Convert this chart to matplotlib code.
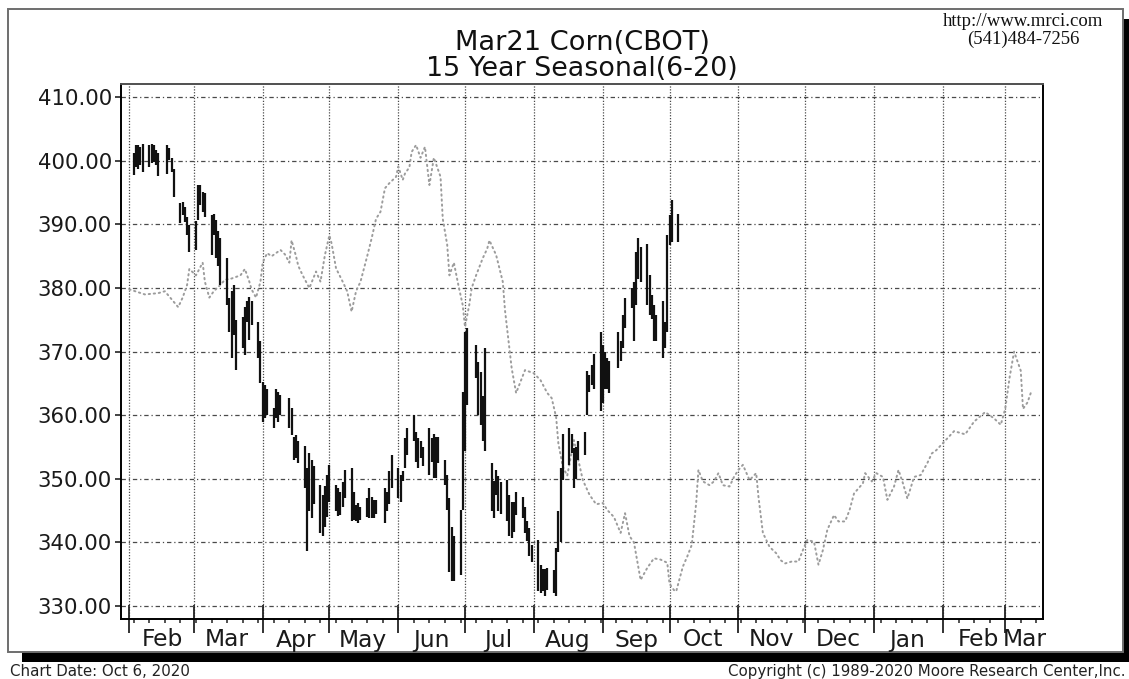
import matplotlib
matplotlib.use("Agg")
import matplotlib.pyplot as plt
import matplotlib.dates as mdates
import matplotlib.transforms as mtransforms
from matplotlib.patches import Rectangle
import pandas as pd

# ---------------- data ----------------
title_line1 = "Mar21 Corn(CBOT)"
title_line2 = "15 Year Seasonal(6-20)"
site_text = "http://www.mrci.com"
phone_text = "(541)484-7256"
chart_date_text = "Chart Date: Oct 6, 2020"
copyright_text = "Copyright (c) 1989-2020 Moore Research Center,Inc."

price_dates = [
    "2020-02-03", "2020-02-04", "2020-02-05", "2020-02-06", "2020-02-07",
    "2020-02-10", "2020-02-11", "2020-02-12", "2020-02-13", "2020-02-14",
    "2020-02-18", "2020-02-19", "2020-02-20", "2020-02-21",
    "2020-02-24", "2020-02-25", "2020-02-26", "2020-02-27", "2020-02-28",
    "2020-03-02", "2020-03-03", "2020-03-04", "2020-03-05", "2020-03-06",
    "2020-03-09", "2020-03-10", "2020-03-11", "2020-03-12", "2020-03-13",
    "2020-03-16", "2020-03-17", "2020-03-18", "2020-03-19", "2020-03-20",
    "2020-03-23", "2020-03-24", "2020-03-25", "2020-03-26", "2020-03-27",
    "2020-03-30", "2020-03-31", "2020-04-01", "2020-04-02", "2020-04-03",
    "2020-04-06", "2020-04-07", "2020-04-08", "2020-04-09",
    "2020-04-13", "2020-04-14", "2020-04-15", "2020-04-16", "2020-04-17",
    "2020-04-20", "2020-04-21", "2020-04-22", "2020-04-23", "2020-04-24",
    "2020-04-27", "2020-04-28", "2020-04-29", "2020-04-30", "2020-05-01",
    "2020-05-04", "2020-05-05", "2020-05-06", "2020-05-07", "2020-05-08",
    "2020-05-11", "2020-05-12", "2020-05-13", "2020-05-14", "2020-05-15",
    "2020-05-18", "2020-05-19", "2020-05-20", "2020-05-21", "2020-05-22",
    "2020-05-26", "2020-05-27", "2020-05-28", "2020-05-29",
    "2020-06-01", "2020-06-02", "2020-06-03", "2020-06-04", "2020-06-05",
    "2020-06-08", "2020-06-09", "2020-06-10", "2020-06-11", "2020-06-12",
    "2020-06-15", "2020-06-16", "2020-06-17", "2020-06-18", "2020-06-19",
    "2020-06-22", "2020-06-23", "2020-06-24", "2020-06-25", "2020-06-26",
    "2020-06-29", "2020-06-30", "2020-07-01", "2020-07-02",
    "2020-07-06", "2020-07-07", "2020-07-08", "2020-07-09", "2020-07-10",
    "2020-07-13", "2020-07-14", "2020-07-15", "2020-07-16", "2020-07-17",
    "2020-07-20", "2020-07-21", "2020-07-22", "2020-07-23", "2020-07-24",
    "2020-07-27", "2020-07-28", "2020-07-29", "2020-07-30", "2020-07-31",
    "2020-08-03", "2020-08-04", "2020-08-05", "2020-08-06", "2020-08-07",
    "2020-08-10", "2020-08-11", "2020-08-12", "2020-08-13", "2020-08-14",
    "2020-08-17", "2020-08-18", "2020-08-19", "2020-08-20", "2020-08-21",
    "2020-08-24", "2020-08-25", "2020-08-26", "2020-08-27", "2020-08-28",
    "2020-08-31", "2020-09-01", "2020-09-02", "2020-09-03", "2020-09-04",
    "2020-09-08", "2020-09-09", "2020-09-10", "2020-09-11",
    "2020-09-14", "2020-09-15", "2020-09-16", "2020-09-17", "2020-09-18",
    "2020-09-21", "2020-09-22", "2020-09-23", "2020-09-24", "2020-09-25",
    "2020-09-28", "2020-09-29", "2020-09-30", "2020-10-01", "2020-10-02",
    "2020-10-05",
]
price_high = [
    401.2, 402.5, 402.5, 402.2, 402.7,
    402.5, 402.7, 402.5, 401.7, 401.2,
    402.5, 402.0, 400.4, 398.8,
    393.3, 393.5, 392.8, 391.2, 389.9,
    390.5, 396.2, 396.2, 395.1, 394.9,
    391.5, 391.7, 390.7, 389.0, 387.8,
    384.7, 378.4, 379.5, 380.5, 375.0,
    375.5, 377.1, 377.9, 378.6, 377.9,
    374.7, 371.6, 365.3, 364.8, 364.2,
    361.1, 364.2, 363.7, 363.2,
    362.7, 361.1, 356.6, 356.9, 356.0,
    355.1, 351.7, 354.0, 353.0, 352.0,
    349.0, 347.5, 348.8, 350.6, 352.2,
    349.1, 348.5, 348.0, 349.5, 351.4,
    351.7, 348.0, 345.9, 346.2, 345.5,
    347.0, 348.5, 347.2, 346.7, 346.7,
    348.5, 348.0, 351.2, 353.8,
    351.7, 350.6, 351.2, 356.4, 358.0,
    360.1, 357.4, 356.4, 355.9, 355.0,
    358.0, 356.4, 357.0, 356.6, 356.6,
    353.0, 350.6, 347.0, 342.5, 341.0,
    345.1, 363.7, 373.1, 373.7,
    371.0, 368.4, 366.8, 363.0, 370.5,
    352.5, 349.6, 351.4, 350.5, 349.5,
    349.8, 347.5, 346.4, 346.4, 348.0,
    347.2, 345.5, 343.3, 342.3, 339.6,
    340.4, 336.5, 335.9, 335.9, 336.0,
    335.7, 339.1, 345.0, 351.7, 357.0,
    358.0, 357.0, 354.8, 355.0, 356.0,
    357.4, 366.9, 366.3, 367.9, 369.7,
    373.1, 371.0, 370.0, 369.0, 368.5,
    373.1, 371.6, 375.8, 378.4,
    380.0, 381.0, 385.7, 387.8, 386.5,
    387.0, 382.0, 378.9, 377.3, 375.8,
    377.9, 374.7, 388.3, 391.5, 393.8,
    391.7,
]
price_low = [
    397.8, 399.0, 398.8, 399.3, 398.3,
    399.1, 399.6, 399.8, 399.3, 397.7,
    398.0, 400.1, 398.3, 394.3,
    390.2, 391.5, 390.4, 388.3, 385.7,
    386.0, 390.7, 393.0, 392.0, 391.2,
    385.2, 388.3, 384.7, 383.5, 380.5,
    377.3, 373.1, 369.0, 372.6, 367.1,
    370.5, 369.5, 374.7, 371.8, 374.2,
    369.0, 365.0, 359.0, 359.5, 360.1,
    358.0, 359.5, 359.0, 360.1,
    358.0, 356.9, 353.0, 353.2, 352.5,
    348.5, 338.6, 345.0, 343.9, 346.0,
    341.5, 341.0, 342.5, 344.0, 346.4,
    344.9, 344.1, 344.3, 345.5, 347.0,
    343.3, 343.5, 343.3, 343.0, 343.5,
    344.0, 343.8, 343.8, 343.8, 344.5,
    343.0, 344.9, 346.0, 348.5,
    347.0, 346.4, 349.6, 351.7, 353.8,
    355.9, 352.7, 351.7, 353.2, 352.0,
    350.6, 352.7, 350.1, 350.1, 352.5,
    349.0, 345.1, 335.4, 333.9, 334.0,
    334.9, 345.1, 354.3, 361.6,
    365.8, 360.1, 358.5, 356.0, 354.3,
    345.0, 343.8, 347.5, 345.0, 344.5,
    343.3, 341.0, 340.7, 341.7, 344.3,
    343.8, 341.5, 340.2, 337.8, 337.0,
    332.3, 332.0, 332.3, 331.5, 332.5,
    332.0, 331.5, 338.5, 340.0, 349.8,
    352.2, 354.0, 348.5, 350.0, 353.0,
    353.8, 360.1, 363.7, 364.7, 364.2,
    360.6, 362.0, 364.2, 364.2, 363.5,
    367.4, 368.5, 370.5, 373.7,
    376.8, 371.6, 377.3, 381.5, 381.0,
    377.3, 375.8, 375.2, 371.6, 371.6,
    369.0, 370.5, 373.1, 386.8, 387.3,
    387.3,
]

seasonal_dates = [
    "2020-02-01", "2020-02-08", "2020-02-14", "2020-02-17", "2020-02-23",
    "2020-02-25", "2020-02-27", "2020-02-28", "2020-03-02", "2020-03-05",
    "2020-03-06", "2020-03-08", "2020-03-10", "2020-03-13", "2020-03-15",
    "2020-03-18", "2020-03-22", "2020-03-24", "2020-03-26", "2020-03-27",
    "2020-03-29", "2020-03-31", "2020-04-01", "2020-04-03", "2020-04-05",
    "2020-04-09", "2020-04-11", "2020-04-13", "2020-04-14", "2020-04-16",
    "2020-04-17", "2020-04-19", "2020-04-22", "2020-04-25", "2020-04-27",
    "2020-04-29", "2020-05-01", "2020-05-02", "2020-05-04", "2020-05-07",
    "2020-05-09", "2020-05-11", "2020-05-13", "2020-05-15", "2020-05-18",
    "2020-05-20", "2020-05-22", "2020-05-24", "2020-05-26", "2020-05-28",
    "2020-05-31", "2020-06-01", "2020-06-03", "2020-06-04", "2020-06-06",
    "2020-06-07", "2020-06-09", "2020-06-11", "2020-06-13", "2020-06-15",
    "2020-06-17", "2020-06-18", "2020-06-20", "2020-06-21", "2020-06-23",
    "2020-06-24", "2020-06-26", "2020-06-28", "2020-06-30", "2020-07-01",
    "2020-07-03", "2020-07-04", "2020-07-06", "2020-07-09", "2020-07-11",
    "2020-07-12", "2020-07-15", "2020-07-18", "2020-07-19", "2020-07-21",
    "2020-07-22", "2020-07-24", "2020-07-28", "2020-08-01", "2020-08-04",
    "2020-08-07", "2020-08-09", "2020-08-11", "2020-08-12", "2020-08-14",
    "2020-08-16", "2020-08-19", "2020-08-23", "2020-08-26", "2020-08-29",
    "2020-09-01", "2020-09-03", "2020-09-06", "2020-09-09", "2020-09-11",
    "2020-09-13", "2020-09-15", "2020-09-18", "2020-09-21", "2020-09-24",
    "2020-09-27", "2020-09-30", "2020-10-01", "2020-10-03", "2020-10-04",
    "2020-10-07", "2020-10-09", "2020-10-11", "2020-10-13", "2020-10-14",
    "2020-10-16", "2020-10-19", "2020-10-21", "2020-10-23", "2020-10-25",
    "2020-10-28", "2020-10-30", "2020-11-01", "2020-11-03", "2020-11-06",
    "2020-11-09", "2020-11-10", "2020-11-12", "2020-11-15", "2020-11-18",
    "2020-11-20", "2020-11-22", "2020-11-25", "2020-11-28", "2020-11-30",
    "2020-12-02", "2020-12-05", "2020-12-07", "2020-12-09", "2020-12-11",
    "2020-12-14", "2020-12-16", "2020-12-19", "2020-12-21", "2020-12-23",
    "2020-12-27", "2020-12-28", "2020-12-31", "2021-01-02", "2021-01-05",
    "2021-01-07", "2021-01-10", "2021-01-12", "2021-01-14", "2021-01-16",
    "2021-01-19", "2021-01-22", "2021-01-25", "2021-01-27", "2021-01-29",
    "2021-02-02", "2021-02-06", "2021-02-11", "2021-02-15", "2021-02-20",
    "2021-02-24", "2021-02-27", "2021-03-01", "2021-03-03", "2021-03-05",
    "2021-03-08", "2021-03-09", "2021-03-11", "2021-03-13",
]
seasonal_values = [
    379.8, 379.0, 379.2, 379.5, 377.0,
    378.5, 380.5, 383.0, 382.0, 384.0,
    381.0, 378.5, 379.5, 380.5, 381.3,
    381.5, 382.0, 383.0, 381.0, 379.8,
    378.5, 381.0, 384.0, 385.5, 385.0,
    386.0, 385.3, 384.0, 387.5, 385.0,
    383.5, 382.0, 380.0, 382.6, 381.0,
    385.2, 388.3, 387.0, 383.1, 381.0,
    379.5, 376.3, 379.5, 381.0, 385.0,
    387.8, 390.9, 392.0, 395.7, 396.5,
    397.5, 399.1, 397.0, 398.0, 399.0,
    401.4, 402.5, 400.5, 402.2, 396.2,
    400.5, 399.5, 397.5, 390.9, 386.8,
    382.0, 384.0, 380.5, 377.3, 373.9,
    377.5, 380.0, 382.0, 384.7, 386.2,
    387.5, 385.2, 381.0, 376.5, 370.5,
    367.4, 363.5, 367.1, 366.6, 365.5,
    363.5, 362.7, 359.7, 355.6, 351.9,
    350.5, 356.1, 349.8, 347.5, 346.0,
    346.2, 345.1, 344.0, 341.5, 344.6,
    341.0, 340.0, 334.1, 336.0, 337.5,
    337.3, 336.8, 333.5, 332.5, 332.3,
    336.2, 337.8, 339.6, 346.2, 351.4,
    349.6, 349.0, 349.6, 350.9, 349.0,
    348.8, 350.3, 351.4, 352.2, 349.8,
    350.9, 347.2, 341.5, 339.3, 338.3,
    337.2, 336.7, 337.0, 337.0, 338.8,
    340.4, 340.1, 336.5, 338.8, 342.0,
    344.3, 343.3, 343.3, 345.1, 347.7,
    349.3, 350.9, 349.6, 350.9, 350.3,
    346.7, 348.8, 351.4, 349.3, 346.9,
    350.3, 350.6, 352.5, 354.0, 354.5,
    356.0, 357.5, 357.0, 359.0, 360.5,
    359.5, 358.5, 361.0, 366.0, 370.0,
    367.0, 361.0, 362.0, 364.0,
]

y_ticks = [330, 340, 350, 360, 370, 380, 390, 400, 410]
y_limits = [327.96, 412.09]
x_limits = ["2020-01-28 06:30", "2021-03-18 00:00"]

month_labels = ["Feb", "Mar", "Apr", "May", "Jun", "Jul", "Aug", "Sep",
                "Oct", "Nov", "Dec", "Jan", "Feb", "Mar"]
month_label_dates = ["2020-02-16", "2020-03-16", "2020-04-16", "2020-05-16",
                     "2020-06-16", "2020-07-16", "2020-08-16", "2020-09-16",
                     "2020-10-16", "2020-11-16", "2020-12-16", "2021-01-16",
                     "2021-02-17", "2021-03-10"]

# ---------------- figure ----------------
W, H = 1129, 679
fig = plt.figure(figsize=(W / 100, H / 100), dpi=100)
fig.patch.set_facecolor("white")

def fx(px):
    return px / W

def fy(py):
    return (H - py) / H

# drop shadow and outer frame
fig.patches.append(Rectangle((fx(22), fy(662)), fx(1137) - fx(22), fy(19) - fy(662),
                             transform=fig.transFigure, facecolor="black",
                             edgecolor="none", zorder=-3))
fig.patches.append(Rectangle((fx(8), fy(652)), fx(1123) - fx(8), fy(9) - fy(652),
                             transform=fig.transFigure, facecolor="white",
                             edgecolor="#6e6e6e", linewidth=1.4, zorder=-2))

ax = fig.add_axes([fx(121), fy(619), fx(1043) - fx(121), fy(84) - fy(619)])
ax.set_facecolor("white")
ax.set_axisbelow(True)

pd_price = pd.to_datetime(price_dates)
pd_seas = pd.to_datetime(seasonal_dates)

# seasonal dotted line
ax.plot(pd_seas, seasonal_values, color="#9c9c9c", linewidth=1.4,
        linestyle=(0, (0.7, 1.9)), dash_capstyle="round", zorder=2)

# price bars (high-low)
ax.vlines(pd_price, price_low, price_high, color="#111111", linewidth=1.6, zorder=3)

ax.set_xlim(pd.to_datetime(x_limits[0]), pd.to_datetime(x_limits[1]))
ax.set_ylim(*y_limits)

ax.set_yticks(y_ticks)
ax.set_yticklabels([f"{v:.2f}" for v in y_ticks])
ax.xaxis.set_major_locator(mdates.MonthLocator())
ax.xaxis.set_minor_locator(mdates.WeekdayLocator(byweekday=mdates.MO))
ax.tick_params(axis="x", which="both", labelbottom=False)
ax.tick_params(axis="x", which="major", direction="inout", length=20, width=1.3,
               color="#222222")
ax.tick_params(axis="x", which="minor", direction="out", length=3, width=1.1,
               color="#222222")
ax.tick_params(axis="y", which="major", direction="out", length=4.5, width=1.2,
               pad=2, labelsize=15.3, labelcolor="#1a1a1a", color="#222222")
for lab in ax.get_yticklabels():
    lab.set_fontfamily("DejaVu Sans")

ax.grid(axis="y", which="major", color="#4a4a4a", linewidth=0.9,
        linestyle=(0, (3.5, 2.3, 1.0, 2.3)))
ax.grid(axis="x", which="major", color="#4a4a4a", linewidth=0.9,
        linestyle=(0, (1.0, 1.3)))

for side in ["left", "bottom", "right"]:
    ax.spines[side].set_color("black")
    ax.spines[side].set_linewidth(1.4)
ax.spines["top"].set_color("#505050")
ax.spines["top"].set_linewidth(1.4)

# month labels
trans = mtransforms.blended_transform_factory(ax.transData, fig.transFigure)
for lab, d in zip(month_labels, month_label_dates):
    ax.text(pd.to_datetime(d), fy(646.5), lab, transform=trans, ha="center",
            va="baseline", fontsize=16.8, family="DejaVu Sans", color="#1a1a1a",
            clip_on=False)

# titles and notes
fig.text(fx(582), fy(50), title_line1, ha="center", va="baseline",
         fontsize=19.6, family="DejaVu Sans", color="#111111")
fig.text(fx(582), fy(75.5), title_line2, ha="center", va="baseline",
         fontsize=19.4, family="DejaVu Sans", color="#111111")
fig.text(fx(1023), fy(26), site_text, ha="center", va="baseline",
         fontsize=13.5, family="Liberation Serif", color="#111111")
fig.text(fx(1023), fy(44), phone_text, ha="center", va="baseline",
         fontsize=13.5, family="Liberation Serif", color="#111111")
fig.text(fx(10), fy(676), chart_date_text, ha="left", va="baseline",
         fontsize=10.8, family="DejaVu Sans", color="#222222")
fig.text(fx(1125), fy(676), copyright_text, ha="right", va="baseline",
         fontsize=10.8, family="DejaVu Sans", color="#222222")

fig.savefig("out.png", dpi=100, facecolor="white")
